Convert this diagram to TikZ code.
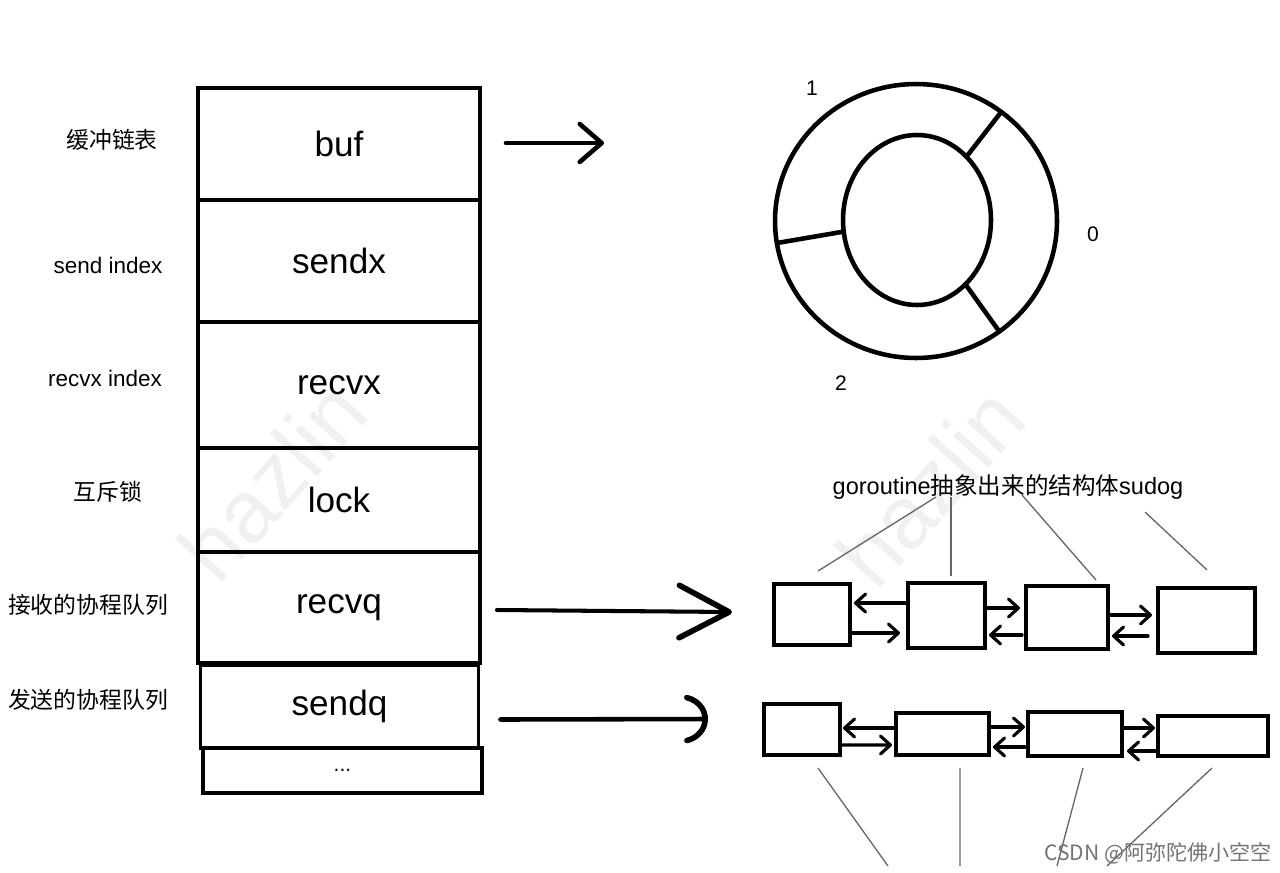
\documentclass[tikz,border=0pt]{standalone}
\usepackage{fontspec}
\setmainfont{Liberation Sans}
\newfontfamily\cjk{Noto Sans CJK SC}
\usetikzlibrary{arrows.meta,calc,shapes.geometric}
\begin{document}
\begin{tikzpicture}[x=0.02cm,y=-0.02cm,
 cell/.style={draw, line width=2.2pt, minimum width=5.64cm, inner sep=0pt, outer sep=0pt, font=\fontsize{20}{24}\selectfont},
 lbl/.style={font=\fontsize{12.8}{15}\selectfont},
 lblzh/.style={font=\cjk\fontsize{13}{15}\selectfont},
 sudog/.style={draw, line width=2.4pt, inner sep=0pt, outer sep=0pt},
 link/.style={line width=1.8pt, line cap=round, -{Straight Barb[length=2mm,width=3.6mm,round]}},
 bigarrow/.style={line width=2.6pt, line cap=round},
 pointer/.style={line width=0.75pt, draw=black!60},
 ring/.style={draw, ellipse, line width=2.6pt, inner sep=0pt, outer sep=0pt},
 num/.style={font=\fontsize{12}{14}\selectfont},
 wm/.style={text=black!6, font=\fontsize{50}{50}\selectfont, rotate=48},
]
\useasboundingbox (0,0) rectangle (1280,872);
\fill[white] (0,0) rectangle (1280,872);

% watermarks
\node[wm] (wm1) at (272,480) {hazlin};
\node[wm] (wm2) at (930,486) {hazlin};

% channel struct cells
\node[cell, minimum height=2.24cm] (buf) at (339,144) {buf};
\node[cell, minimum height=2.44cm] (sendx) at (339,261) {sendx};
\node[cell, minimum height=2.52cm] (recvx) at (339,385) {recvx};
\node[cell, minimum height=2.08cm] (lock) at (339,500) {lock};
\node[cell, minimum height=2.22cm] (recvq) at (339,607.5) {recvq};
\node[cell, minimum width=5.56cm, minimum height=1.66cm] (sendq) at (339.5,706.5) {sendq};
\node[cell, minimum width=5.58cm, minimum height=0.9cm, font=\fontsize{12}{14}\selectfont] (more) at (342.5,770.5) {...};

% side labels
\node[lblzh] (l1) at (112,140) {缓冲链表};
\node[lbl] (l2) at (108,265) {send index};
\node[lbl] (l3) at (105,378) {recvx index};
\node[lblzh] (l4) at (108,492) {互斥锁};
\node[lblzh] (l5) at (88,605) {接收的协程队列};
\node[lblzh] (l6) at (88,700) {发送的协程队列};

% ring buffer
\node[ring, minimum width=5.64cm, minimum height=5.48cm] (outer) at (916,221) {};
\node[ring, minimum width=2.96cm, minimum height=3.4cm] (inner) at (917,220) {};
\draw[line width=2.6pt] (inner.52) -- (outer.52);
\draw[line width=2.6pt] (inner.189) -- (outer.189);
\draw[line width=2.6pt] (inner.307) -- (outer.307);
\node[num] (n1) at (812,88) {1};
\node[num] (n0) at (1093,234) {0};
\node[num] (n2) at (841,383) {2};

% big arrows
\coordinate (buftip) at (604,143);
\draw[bigarrow, -{Straight Barb[length=4.4mm,width=7.6mm,round]}] ($(buf.east)+(26,-1)$) -- (buftip);
\coordinate (rqtip) at (732,612);
\draw[bigarrow, line width=2.3pt, -{Straight Barb[length=10mm,width=10.5mm,round,line width=3.2pt]}] ($(recvq.east)+(17,2.5)$) -- (rqtip);
\coordinate (sqtip) at (708,719);
\draw[bigarrow, -{Arc Barb[length=5.5mm,width=10mm,arc=150,round,line width=3.2pt]}] ($(sendq.east)+(22,13)$) -- (sqtip);

% sudog title
\node[font=\fontsize{13.4}{16}\selectfont] (title) at (1008,487) {goroutine{\cjk 抽象出来的结构体}sudog};

% recv queue
\node[sudog, minimum width=1.52cm, minimum height=1.22cm] (q1a) at (812,614.5) {};
\node[sudog, minimum width=1.54cm, minimum height=1.30cm] (q1b) at (946.5,615.5) {};
\node[sudog, minimum width=1.64cm, minimum height=1.26cm] (q1c) at (1067,617.5) {};
\node[sudog, minimum width=1.94cm, minimum height=1.30cm] (q1d) at (1206.5,620.5) {};
\draw[link] ($(q1b.west)+(0,-12.5)$) -- ($(q1a.east)+(4,-11.5)$);
\draw[link] ($(q1a.east)+(0,18.5)$) -- ($(q1b.west)+(-8,17.5)$);
\draw[link] ($(q1b.east)+(0,-7.5)$) -- ($(q1c.west)+(-6,-9.5)$);
\draw[link] ($(q1c.west)+(-4,17.5)$) -- ($(q1b.east)+(4,19.5)$);
\draw[link] ($(q1c.east)+(0,-2.5)$) -- ($(q1d.west)+(-6,-5.5)$);
\draw[link] ($(q1d.west)+(-10,15.5)$) -- ($(q1c.east)+(4,18.5)$);

% send queue
\node[sudog, minimum width=1.52cm, minimum height=1.02cm] (q2a) at (802,729.5) {};
\node[sudog, minimum width=1.86cm, minimum height=0.84cm] (q2b) at (942.5,734) {};
\node[sudog, minimum width=1.88cm, minimum height=0.88cm] (q2c) at (1075,734) {};
\node[sudog, minimum width=2.20cm, minimum height=0.80cm] (q2d) at (1213,736) {};
\draw[link] ($(q2b.west)+(0,-6)$) -- ($(q2a.east)+(3,-1.5)$);
\draw[link] ($(q2a.east)+(0,15.5)$) -- ($(q2b.west)+(-4,11)$);
\draw[link] ($(q2b.east)+(0,-7)$) -- ($(q2c.west)+(-3,-7)$);
\draw[link] ($(q2c.west)+(-3,13)$) -- ($(q2b.east)+(4,13)$);
\draw[link] ($(q2c.east)+(0,-6)$) -- ($(q2d.west)+(-3,-8)$);
\draw[link] ($(q2d.west)+(0,15)$) -- ($(q2c.east)+(5,17)$);

% pointer lines (top)
\coordinate (t1) at (936,497);
\coordinate (t2) at (951,497);
\coordinate (t3) at (1022,495);
\coordinate (t4) at (1145,512);
\coordinate (p1) at (818,571);
\coordinate (p2) at (951,576);
\coordinate (p3) at (1096,580);
\coordinate (p4) at (1207,570);
\draw[pointer] (t1) -- (p1);
\draw[pointer] (t2) -- (p2);
\draw[pointer] (t3) -- (p3);
\draw[pointer] (t4) -- (p4);

% pointer lines (bottom)
\coordinate (d1) at (888,866);
\coordinate (d2) at (960,866);
\coordinate (d3) at (1057,866);
\coordinate (d4) at (1107,866);
\draw[pointer] ($(q2a.south)+(16,13)$) -- (d1);
\draw[pointer] ($(q2b.south)+(17.5,13)$) -- (d2);
\draw[pointer] ($(q2c.south)+(8,12)$) -- (d3);
\draw[pointer] ($(q2d.south)+(-1,12)$) -- (d4);

\node[font=\cjk\fontsize{12}{14}\selectfont, text=black!55] (csdn) at (1158,853) {CSDN @阿弥陀佛小空空};
\end{tikzpicture}
\end{document}
